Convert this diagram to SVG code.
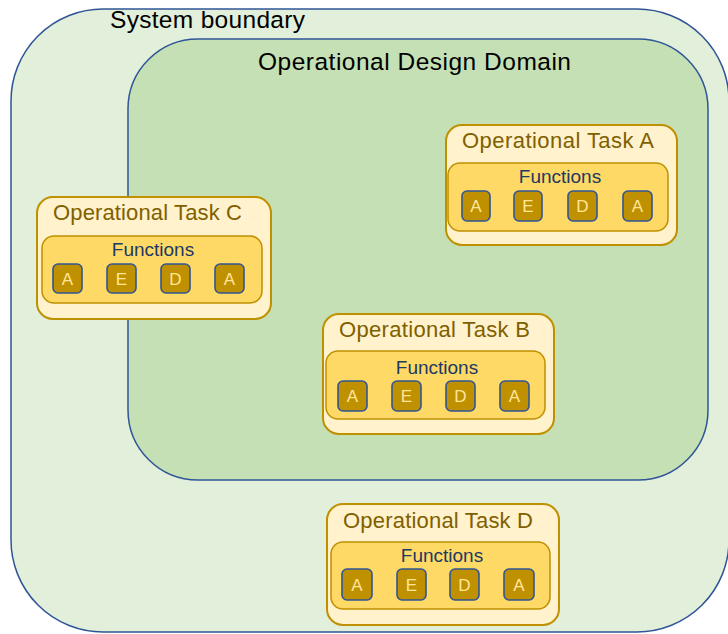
<svg xmlns="http://www.w3.org/2000/svg" width="728" height="634" viewBox="0 0 728 634">
<defs>
<style>
text{font-family:"Liberation Sans",Arial,sans-serif}
.bound{stroke:#2F5597;stroke-width:1.5}
.big{font-size:24.5px;fill:#000}
.task{fill:#FFF2CC;stroke:#BF9000;stroke-width:2}
.func{fill:#FFD966;stroke:#BF9000;stroke-width:1.5}
.sq{fill:#BF9000;stroke:#2F5597;stroke-width:1.6}
.ttl{font-size:22px;fill:#7F6000}
.ftxt{font-size:19px;fill:#203864;text-anchor:middle}
.let{font-size:17px;fill:#FFE699;text-anchor:middle}
</style>
</defs>
<rect width="728" height="634" fill="#fff"/>
<g id="system-boundary">
<rect class="bound" x="11" y="9" width="718" height="623" rx="92" fill="#E2EFDA"/>
<text class="big" x="110" y="28" textLength="195">System boundary</text>
</g>
<g id="odd">
<rect class="bound" x="128" y="39" width="580" height="441" rx="70" fill="#C5E0B4"/>
<text class="big" x="258" y="70" textLength="313">Operational Design Domain</text>
</g>
<g id="task-a">
<rect class="task" x="446" y="125" width="231" height="120" rx="16"/>
<text class="ttl" x="462" y="148" textLength="192">Operational Task A</text>
<rect class="func" x="448" y="163" width="220" height="68" rx="12"/>
<text class="ftxt" x="560" y="183">Functions</text>
<rect class="sq" x="462" y="191" width="28" height="30" rx="5"/><text class="let" x="476" y="212">A</text>
<rect class="sq" x="514" y="191" width="28" height="30" rx="5"/><text class="let" x="528" y="212">E</text>
<rect class="sq" x="568" y="191" width="29" height="30" rx="5"/><text class="let" x="582.5" y="212">D</text>
<rect class="sq" x="623" y="191" width="29" height="30" rx="5"/><text class="let" x="637.5" y="212">A</text>
</g>
<g id="task-c">
<rect class="task" x="37" y="197" width="234" height="122" rx="16"/>
<text class="ttl" x="53" y="220" textLength="189">Operational Task C</text>
<rect class="func" x="42" y="236" width="220" height="67" rx="12"/>
<text class="ftxt" x="153" y="256">Functions</text>
<rect class="sq" x="53" y="264" width="29" height="29" rx="5"/><text class="let" x="67.5" y="285">A</text>
<rect class="sq" x="107" y="264" width="29" height="29" rx="5"/><text class="let" x="121.5" y="285">E</text>
<rect class="sq" x="161" y="264" width="29" height="29" rx="5"/><text class="let" x="175.5" y="285">D</text>
<rect class="sq" x="215" y="264" width="29" height="29" rx="5"/><text class="let" x="229.5" y="285">A</text>
</g>
<g id="task-b">
<rect class="task" x="323" y="314" width="231" height="120" rx="16"/>
<text class="ttl" x="339" y="337" textLength="191">Operational Task B</text>
<rect class="func" x="326" y="351" width="219" height="68" rx="12"/>
<text class="ftxt" x="437" y="374">Functions</text>
<rect class="sq" x="338" y="381" width="29" height="30" rx="5"/><text class="let" x="352.5" y="402">A</text>
<rect class="sq" x="392" y="381" width="29" height="30" rx="5"/><text class="let" x="406.5" y="402">E</text>
<rect class="sq" x="446" y="381" width="29" height="30" rx="5"/><text class="let" x="460.5" y="402">D</text>
<rect class="sq" x="500" y="381" width="29" height="30" rx="5"/><text class="let" x="514.5" y="402">A</text>
</g>
<g id="task-d">
<rect class="task" x="327" y="504" width="232" height="121" rx="16"/>
<text class="ttl" x="343" y="528" textLength="190">Operational Task D</text>
<rect class="func" x="331" y="542" width="219" height="67" rx="12"/>
<text class="ftxt" x="442" y="562">Functions</text>
<rect class="sq" x="342" y="569" width="30" height="31" rx="5"/><text class="let" x="357" y="591">A</text>
<rect class="sq" x="397" y="569" width="29" height="31" rx="5"/><text class="let" x="411.5" y="591">E</text>
<rect class="sq" x="450" y="569" width="29" height="31" rx="5"/><text class="let" x="464.5" y="591">D</text>
<rect class="sq" x="504" y="569" width="30" height="31" rx="5"/><text class="let" x="519" y="591">A</text>
</g>
<g id="connectors"></g>
</svg>
